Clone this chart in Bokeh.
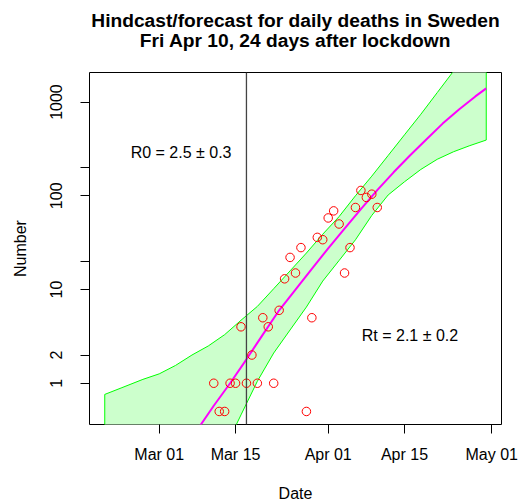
import math
import pandas as pd
from bokeh.plotting import figure
from bokeh.models import Range1d, FixedTicker, DatetimeTickFormatter, Span, Label, Title
from bokeh.embed import file_html
from bokeh.resources import INLINE

# ---------------- data ----------------
death_dates = pd.date_range("2020-03-11", "2020-04-10", freq="D")
deaths = [1, 0.5, 0.5, 1, 1, 4, 1, 2, 1, 5, 4, 1, 6, 13, 22, 15, 28, 0.5, 5,
          36, 34, 58, 69, 50, 15, 28, 75, 114, 96, 104, 75]

fit_dates = ["2020-03-05", "2020-03-08", "2020-03-11", "2020-03-14", "2020-03-17",
             "2020-03-20", "2020-03-23", "2020-03-26", "2020-03-29", "2020-04-01",
             "2020-04-04", "2020-04-07", "2020-04-10", "2020-04-13", "2020-04-16",
             "2020-04-19", "2020-04-22", "2020-04-25", "2020-04-28", "2020-04-30"]
fit_values = [0.18, 0.32, 0.575, 1.0, 1.8, 3.3, 6.0, 10, 16.6, 27.5, 44.7, 72,
              115, 178, 269, 398, 589, 832, 1148, 1400]

band_dates = ["2020-02-20", "2020-02-23", "2020-02-27", "2020-03-01", "2020-03-04",
              "2020-03-07", "2020-03-10", "2020-03-13", "2020-03-16", "2020-03-19",
              "2020-03-22", "2020-03-25", "2020-03-28", "2020-03-31", "2020-04-03",
              "2020-04-06", "2020-04-09", "2020-04-12", "2020-04-15", "2020-04-18",
              "2020-04-21", "2020-04-24", "2020-04-27", "2020-04-30"]
band_upper = [0.76, 0.89, 1.10, 1.26, 1.55, 2.0, 2.5, 3.3, 4.7, 6.6, 10.2, 15.8,
              24.5, 38.9, 60, 100, 162, 269, 447, 741, 1259, 2138, 3631, 6026]
band_lower = [0.010, 0.013, 0.020, 0.025, 0.040, 0.063, 0.11, 0.20, 0.46, 1.05,
              2.1, 3.7, 6.5, 12.3, 20.4, 33.9, 61.7, 102, 141, 191, 245, 295, 343, 393]

lockdown_date = "2020-03-17"
x_tick_dates = ["2020-03-01", "2020-03-15", "2020-04-01", "2020-04-15", "2020-05-01"]
y_ticks = [1, 2, 10, 20, 100, 200, 1000]
y_tick_labels = ["1", "2", "10", "", "100", "", "1000"]
x_data_lim = ["2020-02-20", "2020-04-30"]
y_data_lim = [0.5, 1500]

title_1 = "Hindcast/forecast for daily deaths in Sweden"
title_2 = "Fri Apr 10, 24 days after lockdown"
r0_text = ("2020-03-05", 290, "R0 = 2.5 \u00b1 0.3")
rt_text = ("2020-04-16", 3.2, "Rt = 2.1 \u00b1 0.2")

# ---------------- helpers ----------------
def ms(d):
    return pd.Timestamp(d).value / 1e6

FONT = "Liberation Sans"

x0, x1 = ms(x_data_lim[0]), ms(x_data_lim[1])
xpad = 0.04 * (x1 - x0)
ly0, ly1 = math.log10(y_data_lim[0]), math.log10(y_data_lim[1])
ypad = 0.04 * (ly1 - ly0)

p = figure(frame_width=412, frame_height=352,
           x_axis_type="datetime", y_axis_type="log",
           x_range=Range1d(x0 - xpad, x1 + xpad),
           y_range=Range1d(10 ** (ly0 - ypad), 10 ** (ly1 + ypad)),
           output_backend="svg", toolbar_location=None,
           min_border_left=89, min_border_right=18,
           min_border_top=72, min_border_bottom=77,
           background_fill_color="white", border_fill_color="white")

p.xgrid.visible = False
p.ygrid.visible = False
p.outline_line_color = "black"
p.outline_line_width = 1

# band polygon
bx = [ms(d) for d in band_dates]
px = bx + bx[::-1]
py = band_upper + band_lower[::-1]
p.patch(px, py, fill_color="#ccffcc", line_color="#00ff00", line_width=1)

# fitted curve
p.line([ms(d) for d in fit_dates], fit_values, line_color="#ff00ff", line_width=2)

# lockdown line
p.add_layout(Span(location=ms(lockdown_date), dimension="height",
                  line_color="#444444", line_width=1.3))

# observations
p.scatter([ms(d) for d in death_dates], deaths, marker="circle", size=8.5,
          fill_color=None, line_color="#ff0000", line_width=1)

# annotation texts
for (d, yv, t) in (r0_text, rt_text):
    p.add_layout(Label(x=ms(d), y=yv, text=t, text_align="center",
                       text_baseline="middle", text_font=FONT,
                       text_font_size="16px", text_color="black"))

# axes
for ax in (p.xaxis[0], p.yaxis[0]):
    ax.axis_line_color = None
    ax.major_tick_out = 9
    ax.major_tick_in = 0
    ax.minor_tick_line_color = None
    ax.major_tick_line_color = "black"
    ax.major_label_text_font = FONT
    ax.major_label_text_font_size = "16px"
    ax.major_label_text_color = "black"
    ax.axis_label_text_font = FONT
    ax.axis_label_text_font_size = "16px"
    ax.axis_label_text_font_style = "normal"
    ax.axis_label_text_color = "black"

p.xaxis.ticker = FixedTicker(ticks=[ms(d) for d in x_tick_dates])
p.xaxis.formatter = DatetimeTickFormatter(days="%b %d", months="%b %d",
                                          hours="%b %d", context=None)
p.xaxis.major_label_standoff = 12
p.xaxis.axis_label = "Date"
p.xaxis.axis_label_standoff = 19

p.yaxis.ticker = FixedTicker(ticks=y_ticks)
p.yaxis.major_label_overrides = dict(zip(y_ticks, y_tick_labels))
p.yaxis.major_label_orientation = "vertical"
p.yaxis.major_label_standoff = 18
p.yaxis.axis_label = "Number"
p.yaxis.axis_label_standoff = 19

# two title lines, each centred over the frame
p.add_layout(Title(text=title_2, align="center", text_font=FONT,
                   text_font_size="19.2px", text_font_style="bold",
                   text_color="black", standoff=44), "above")
p.add_layout(Title(text=title_1, align="center", text_font=FONT,
                   text_font_size="19.2px", text_font_style="bold",
                   text_color="black", standoff=-50), "above")

open("out.html", "w").write(file_html(p, INLINE))
